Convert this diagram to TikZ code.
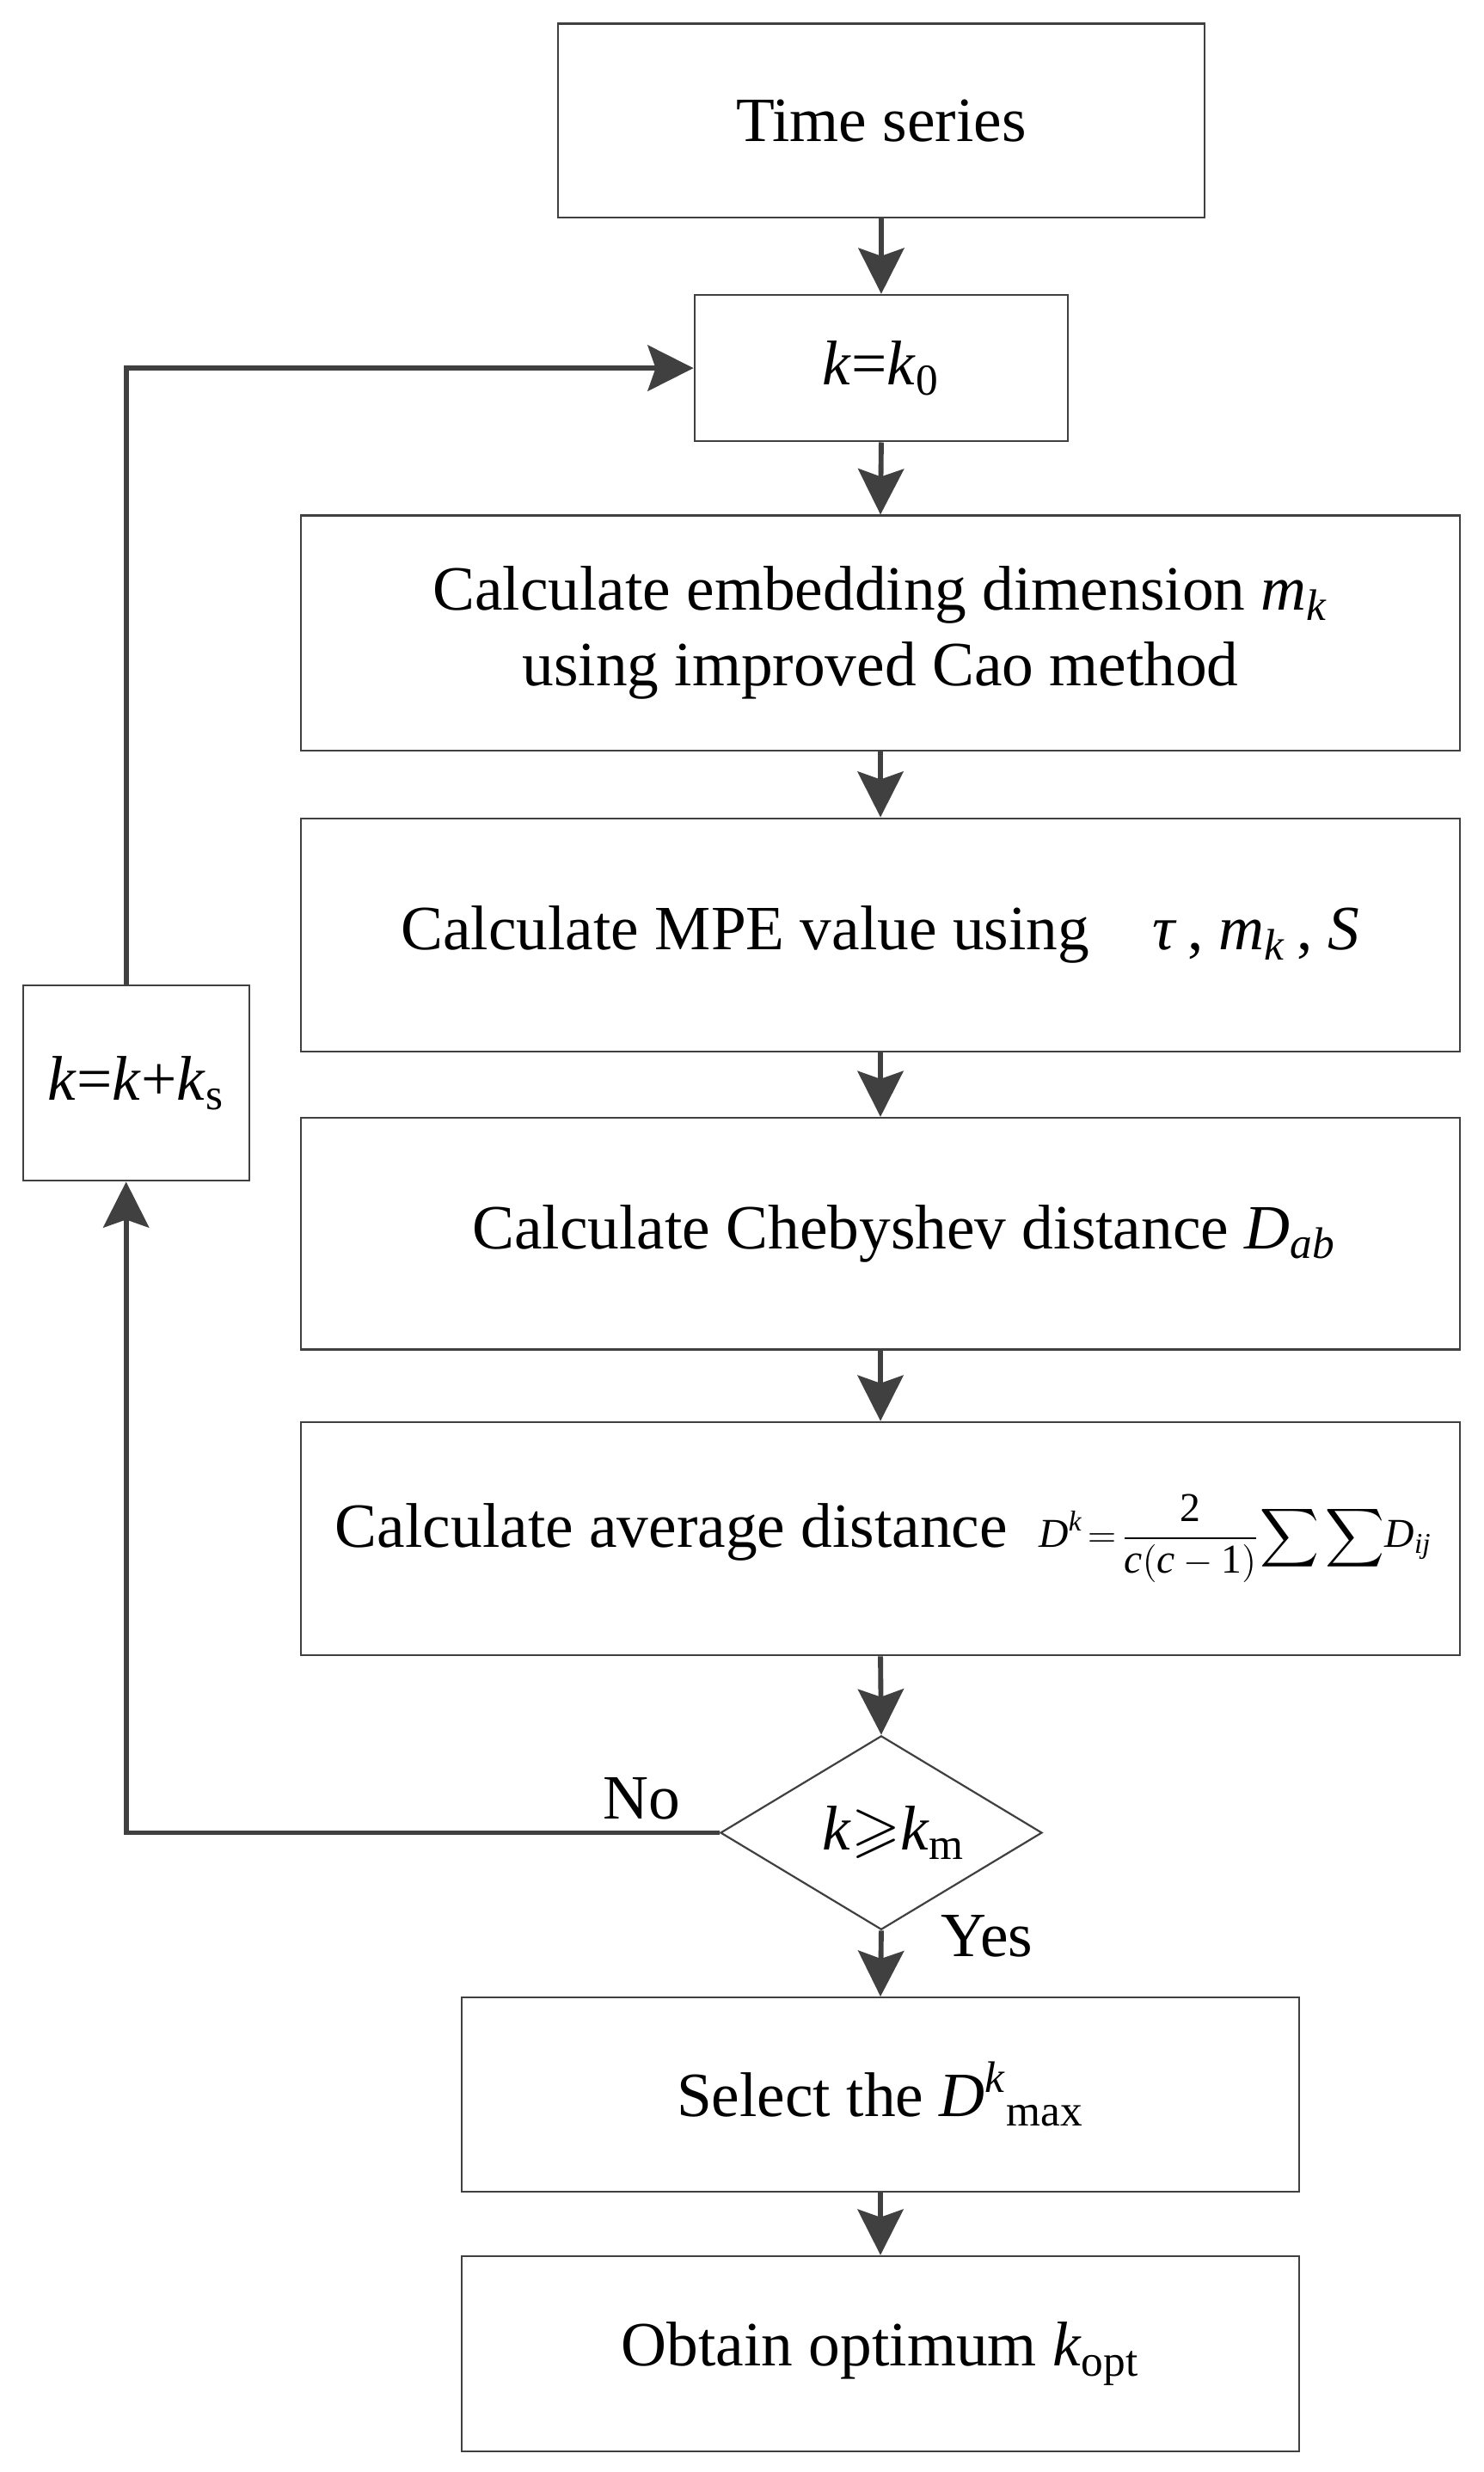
\documentclass[tikz,border=0pt]{standalone}
\usepackage{amsmath,amssymb}
\usepackage{fontspec}
\setmainfont{Liberation Serif}
\usetikzlibrary{calc,arrows.meta,shapes.geometric}
\definecolor{linegray}{RGB}{64,64,64}
\newcommand{\kv}{\textit{k}}
\newcommand{\Dv}{\textit{D}}

\tikzset{
  procbox/.style={draw=linegray, line width=0.6pt, align=center, inner sep=2pt,
                  font=\fontsize{20}{24}\selectfont},
  decbox/.style={draw=linegray, line width=0.6pt, shape=diamond, aspect=1.66, inner sep=0pt,
                 minimum width=102pt, minimum height=61.5pt, font=\fontsize{20}{24}\selectfont},
  flow/.style={draw=linegray, line width=1.6pt,
               -{Stealth[length=14.5pt,width=14.5pt,inset=2.5pt]}},
  tag/.style={font=\fontsize{20}{24}\selectfont, inner sep=0pt},
}

\begin{document}
\begin{tikzpicture}[x=0.5pt,y=-0.5pt]
\useasboundingbox (0,0) rectangle (941,1568);

%---------------- main column -----------------
\node[procbox, minimum width=205pt, minimum height=61.5pt] (series) at (559,76.5) {Time series};
\node[procbox, minimum width=118.5pt, minimum height=46.5pt] (init) at (559,233.5)
      {\kv=\kv\textsubscript{0}};
\node[procbox, minimum width=367.5pt, minimum height=74.5pt] (embed) at (558.5,401.5)
      {Calculate embedding dimension \textit{m}\textsubscript{\textit{k}}\\ using improved Cao method};
\node[procbox, minimum width=367.5pt, minimum height=74pt] (mpe) at (558.5,593)
      {Calculate MPE value using\quad \textit{τ}\,, \textit{m}\textsubscript{\textit{k}}\,, \textit{S}};
\node[procbox, minimum width=367.5pt, minimum height=73.5pt] (cheb) at (558.5,782.5)
      {\hspace*{15pt}Calculate Chebyshev distance \Dv\textsubscript{\textit{ab}}};
\node[procbox, minimum width=367.5pt, minimum height=74pt] (avg) at (558.5,976)
      {\hspace*{2pt}Calculate average distance\enspace
       {\fontsize{13}{15}\selectfont$\text{\Dv}^{\text{\kv}}\!=\!\dfrac{\text{2}}{\text{\textit{c}}(\text{\textit{c}}-\text{1})}
        {\displaystyle\sum\sum}\text{\Dv}_{\text{\textit{ij}}}$}};
\node[decbox] (check) at (559,1162.5) {\hspace*{8pt}\kv$\geqslant$\kv\textsubscript{m}};
\node[procbox, minimum width=265.5pt, minimum height=61.5pt] (pick) at (558.5,1328.5)
      {Select the \Dv\textsuperscript{\kv}\textsubscript{max}};
\node[procbox, minimum width=265.5pt, minimum height=62pt] (result) at (558.5,1493)
      {Obtain optimum \kv\textsubscript{opt}};

%---------------- feedback branch -----------------
\node[procbox, minimum width=71.75pt, minimum height=62pt] (inc) at (86.3,687)
      {\kv=\kv+\kv\textsubscript{s}};
\coordinate (corner) at (80,1162.5);

\node[tag] (no) at (407,1141) {No};
\node[tag] (yes) at (626,1228) {Yes};

% downward flow
\draw[flow] (series.south) -- (init.north);
\draw[flow] (init.south) -- (embed.north);
\draw[flow] (embed.south) -- (mpe.north);
\draw[flow] (mpe.south) -- (cheb.north);
\draw[flow] (cheb.south) -- (avg.north);
\draw[flow] (avg.south) -- (check.north);
\draw[flow] (check.south) -- (pick.north);
\draw[flow] (pick.south) -- (result.north);

% loop back
\draw[flow] (check.west) -- (corner) -- (corner |- inc.south);
\draw[flow] (corner |- inc.north) |- (init.west);

\end{tikzpicture}
\end{document}
